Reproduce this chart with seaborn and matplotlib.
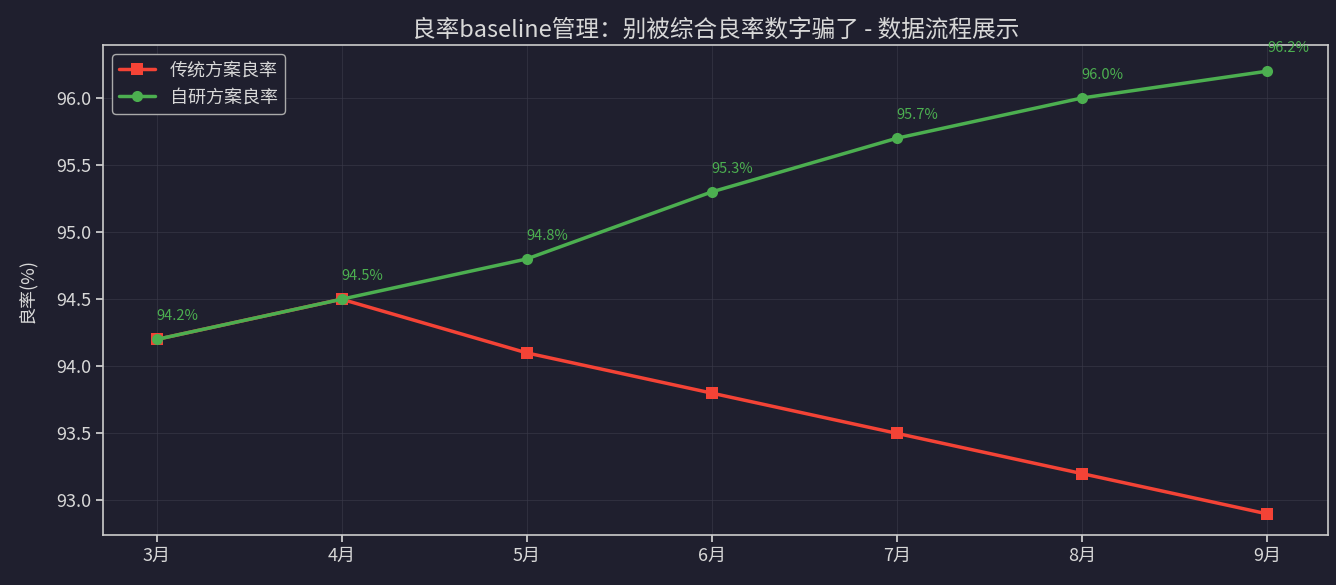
import seaborn as sns
import pandas as pd
import matplotlib.pyplot as plt
import numpy as np

months = ['3月', '4月', '5月', '6月', '7月', '8月', '9月']
traditional = [94.2, 94.5, 94.1, 93.8, 93.5, 93.2, 92.9]
own = [94.2, 94.5, 94.8, 95.3, 95.7, 96.0, 96.2]

bg = '#1f1f2e'
fg = '#d8d8d8'
sns.set_style('dark')
plt.rcParams['font.family'] = ['Noto Sans CJK SC', 'DejaVu Sans']
plt.rcParams['axes.unicode_minus'] = False

df = pd.DataFrame({'month': months, 'trad': traditional, 'own': own})
df['x'] = np.arange(len(months))

fig, ax = plt.subplots(figsize=(13.36, 5.85), dpi=100)
fig.patch.set_facecolor(bg)
ax.set_facecolor(bg)

sns.lineplot(data=df, x='x', y='trad', ax=ax, color='#f44336', marker='s', markersize=8,
             linewidth=2.5, markeredgewidth=0, label='传统方案良率')
sns.lineplot(data=df, x='x', y='own', ax=ax, color='#4caf50', marker='o', markersize=8,
             linewidth=2.5, markeredgewidth=0, label='自研方案良率')

for i, v in enumerate(own):
    ax.text(i, v + 0.12, f'{v}%', color='#4caf50', fontsize=10.5, ha='left', va='bottom')

ax.set_xticks(df['x'])
ax.set_xticklabels(months)
ax.set_xlim(-0.29, 6.33)
ax.set_ylim(92.74, 96.395)
ax.set_xlabel('')
ax.set_ylabel('良率(%)', color=fg, fontsize=13, labelpad=14)
ax.set_title('良率baseline管理：别被综合良率数字骗了 - 数据流程展示', color=fg, fontsize=17)
ax.tick_params(colors=fg, labelsize=13, left=True, bottom=True, length=5, width=1.2)
ax.grid(True, color='#3a3a4a', linewidth=0.8, alpha=0.6)
for s in ax.spines.values():
    s.set_visible(True)
    s.set_color('#cccccc')
    s.set_linewidth(1.2)

leg = ax.legend(loc='upper left', fontsize=13, facecolor=bg, edgecolor='#aaaaaa', framealpha=1)
for t in leg.get_texts():
    t.set_color(fg)

plt.subplots_adjust(left=0.077, right=0.994, top=0.923, bottom=0.085)
plt.savefig('out.png', dpi=100, facecolor=bg)
